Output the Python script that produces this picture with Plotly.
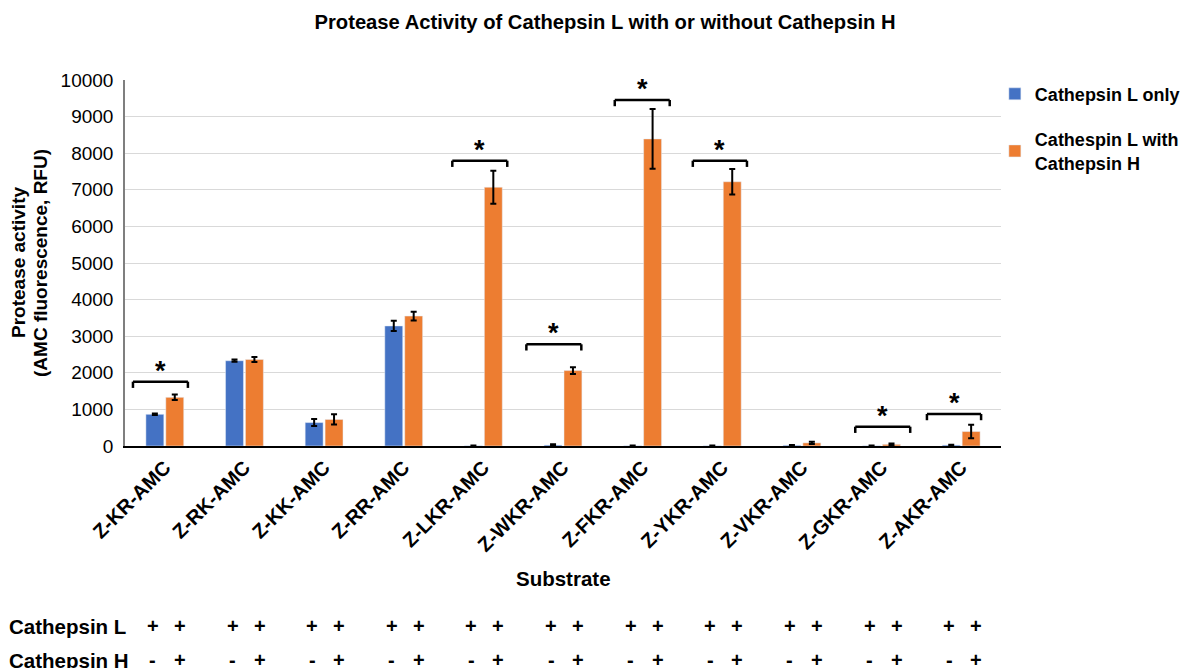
import plotly.graph_objects as go

# Substrates tested
categories = ["Z-KR-AMC", "Z-RK-AMC", "Z-KK-AMC", "Z-RR-AMC", "Z-LKR-AMC", "Z-WKR-AMC",
              "Z-FKR-AMC", "Z-YKR-AMC", "Z-VKR-AMC", "Z-GKR-AMC", "Z-AKR-AMC"]

# Mean activity (RFU) and error
l_only = [866, 2330, 640, 3280, 5, 25, 5, 5, 20, 5, 25]
l_only_err = [20, 30, 95, 140, 10, 25, 10, 10, 10, 10, 10]
l_with_h = [1330, 2365, 725, 3550, 7070, 2060, 8390, 7220, 85, 45, 395]
l_with_h_err = [75, 70, 140, 120, 450, 95, 815, 350, 30, 20, 185]

# Significance brackets: substrate index and bracket height (RFU)
sig_index = [0, 4, 5, 6, 7, 9, 10]
sig_height = [1757, 7795, 2779, 9454, 7795, 527, 874]
sig_left = [-0.40, -0.39, -0.46, -0.35, -0.37, -0.33, -0.43]
sig_right = [0.29, 0.30, 0.23, 0.34, 0.31, 0.36, 0.25]

# Enzyme composition rows under the chart: (without H, with H) columns
row_names = ["Cathepsin L", "Cathepsin H"]
row_marks = [["+", "+"], ["-", "+"]]

BLUE = "#4472C4"
ORANGE = "#ED7D31"
FONT = "Liberation Sans, Arial, sans-serif"

fig = go.Figure()
fig.add_trace(go.Bar(
    x=categories, y=l_only, name="<b>Cathepsin L only</b>", legendgroup="a",
    marker=dict(color=BLUE),
    error_y=dict(type="data", array=l_only_err, color="black", thickness=2, width=3),
))
fig.add_trace(go.Bar(
    x=categories, y=l_with_h, name="<b>Cathespin L with<br>Cathepsin H</b>", legendgroup="b",
    marker=dict(color=ORANGE),
    error_y=dict(type="data", array=l_with_h_err, color="black", thickness=2, width=3),
))

# Brackets with asterisks
tick = 170
shapes = []
annotations = []
for i, h, lo, hi in zip(sig_index, sig_height, sig_left, sig_right):
    x0, x1 = i + lo, i + hi
    line = dict(color="black", width=2.5)
    shapes.append(dict(type="line", xref="x", yref="y", x0=x0, x1=x1, y0=h, y1=h, line=line))
    shapes.append(dict(type="line", xref="x", yref="y", x0=x0, x1=x0, y0=h - tick, y1=h, line=line))
    shapes.append(dict(type="line", xref="x", yref="y", x0=x1, x1=x1, y0=h - tick, y1=h, line=line))
    annotations.append(dict(
        x=(x0 + x1) / 2, y=h, xref="x", yref="y", text="<b>*</b>", showarrow=False,
        yanchor="bottom", yshift=-6, font=dict(size=27, color="black", family=FONT),
    ))

# Composition table
row_y = [-0.492, -0.585]
for name, y, marks in zip(row_names, row_y, row_marks):
    annotations.append(dict(
        x=-0.1347, y=y, xref="paper", yref="paper", text=f"<b>{name}</b>",
        showarrow=False, xanchor="left", yanchor="middle",
        font=dict(size=20.5, color="black", family=FONT),
    ))
    for i in range(len(categories)):
        for mark, dx in zip(marks, (-0.15, 0.19)):
            annotations.append(dict(
                x=i + dx, y=y, xref="x", yref="paper", text=f"<b>{mark}</b>",
                showarrow=False, xanchor="center", yanchor="middle",
                font=dict(size=20, color="black", family=FONT),
            ))

# Axis titles
annotations.append(dict(
    x=0.5, y=-0.3607, xref="paper", yref="paper", text="<b>Substrate</b>",
    showarrow=False, xanchor="center", yanchor="middle",
    font=dict(size=20.5, color="black", family=FONT),
))
for text, px in (("Protease activity", 18), ("(AMC fluorescence, RFU)", 40)):
    annotations.append(dict(
        x=(px - 125) / 876, y=0.5, xref="paper", yref="paper", text=f"<b>{text}</b>",
        showarrow=False, textangle=-90, xanchor="center", yanchor="middle",
        font=dict(size=19, color="black", family=FONT),
    ))

fig.update_layout(
    width=1184, height=668,
    margin=dict(l=125, r=183, t=80, b=222, autoexpand=False),
    paper_bgcolor="white", plot_bgcolor="white",
    barmode="group", bargap=0.5, bargroupgap=0.1,
    font=dict(family=FONT, color="black"),
    title=dict(
        text="<b>Protease Activity of Cathepsin L with or without Cathepsin H</b>",
        x=0.511, xanchor="center", y=1 - 22 / 668, yanchor="middle",
        font=dict(size=20.2, color="black", family=FONT),
    ),
    xaxis=dict(
        tickangle=-45, tickfont=dict(size=20, color="black", family=FONT),
        tickvals=categories, ticktext=[f"<b>{c}</b>" for c in categories],
        showline=True, linecolor="black", linewidth=2, showgrid=False,
        ticks="", range=[-0.5, 10.5],
    ),
    yaxis=dict(
        range=[0, 10000], dtick=1000, tickfont=dict(size=19, color="black", family=FONT),
        showgrid=True, gridcolor="#d9d9d9", gridwidth=1,
        showline=True, linecolor="#7f7f7f", linewidth=1.5, zeroline=False,
        ticks="", tickformat="d", ticklabelstandoff=6,
    ),
    legend=dict(
        x=0.993, y=1.012, xanchor="left", yanchor="top",
        font=dict(size=18, color="black", family=FONT),
        tracegroupgap=19, bgcolor="rgba(0,0,0,0)", itemwidth=30,
    ),
    shapes=shapes,
    annotations=annotations,
)

fig.write_html("out.html")
